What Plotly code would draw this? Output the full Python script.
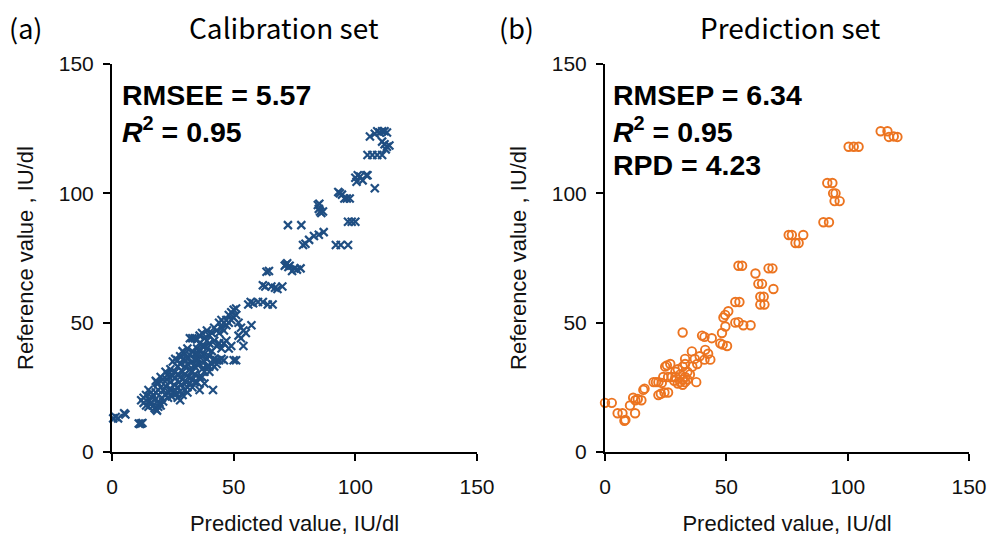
import plotly.graph_objects as go

# ---------------- data ----------------
cal_x = [0.5, 1.5, 2.5, 5, 5.5, 11, 12, 12.5, 11.5,
         14, 15, 16, 17, 18, 18.5, 17.5, 19, 15.5, 16.5, 18, 19.5, 20, 20.5, 21, 18, 19, 18.5, 20, 21, 22,
         22, 23, 23.5, 24, 24.5, 25, 25.5, 26, 26.5, 27, 27.5, 28, 28.5, 29, 22.5, 23.5, 24, 25, 26, 27,
         28, 29, 30, 30.5, 31, 31.5, 32, 32.5, 33, 34, 35, 36, 37, 38, 30, 31, 32, 33, 34, 35,
         36, 37, 38, 39, 40, 41.5, 25, 26, 27, 28, 29, 30, 31, 29.5, 32, 33, 34, 35, 36, 37,
         38, 39, 40, 41, 42, 43, 44, 45, 46, 50, 51, 42, 43, 32, 33, 34, 35, 36, 37, 38,
         39, 40, 41, 42, 43, 44, 45, 46, 47, 48, 49, 50, 51, 49, 50, 51, 48, 47, 46, 44,
         45, 52, 53, 54, 55, 53, 52, 54, 57.3, 46, 47, 48, 49, 44, 45, 43, 42, 40, 39, 38,
         36, 35, 34, 33, 31, 30, 27, 28, 26, 24, 23, 22, 21, 20, 19, 18, 17, 16, 15, 14,
         13, 12, 13, 27, 28, 29, 30, 31, 33, 34, 36, 38, 40, 41, 39, 37, 35,
         56, 57, 58, 60, 62, 64, 66, 62, 63, 65.5, 67, 68, 70, 63.5, 64.5, 71, 72, 72.5, 73, 71.5,
         74, 75, 77.5, 76, 72.3, 77.8, 78.5, 79.5, 81, 83, 85, 87, 84.6, 85, 85.5, 86, 86.7, 85.2,
         93.6, 94.5, 95.5, 96.5, 97.7, 93, 92, 94, 97, 97, 98.5, 100, 100, 101, 102, 103, 104.5,
         100.5, 108, 105, 107, 109, 111, 108, 109, 110, 111, 112, 113, 106, 111, 112, 113, 114,
         112.5, 105]
cal_y = [13, 13.5, 13, 15, 14.5, 11, 11, 11.2, 10.8,
         18, 17.5, 19, 18, 16.5, 16, 17, 17.5, 20, 21, 20.5, 19, 18, 21, 19.5, 27.5, 26.5, 27, 25, 24, 25.5,
         22, 21, 23, 24.5, 21.5, 23, 26, 24, 22.5, 25, 27, 23.5, 26, 28, 28, 29, 27, 29.5, 28.5, 30,
         29, 31, 30, 27, 25, 29, 26.5, 31, 28, 30, 27, 24, 29, 26.5, 33, 34, 32, 35, 33, 36,
         34, 32, 35, 33, 31, 24, 35, 36, 35.5, 37, 39, 38, 40, 36, 37.5, 39, 38, 40, 39, 41,
         38, 40, 37, 39, 36, 35.5, 35.5, 36, 35.5, 35.5, 35.5, 33, 34, 44, 44, 44, 43.5, 45, 46, 44,
         47, 45, 46, 48, 47, 46, 48, 47, 49, 50, 51, 52, 53, 54, 55, 55.5, 53, 51, 50, 50,
         51, 50, 48, 47, 46, 44, 45, 41, 49, 42, 43, 40, 41, 42, 40, 41, 43, 42, 43, 41,
         42, 34, 36, 31, 36, 35, 33, 34, 31, 32, 30, 31, 28, 29, 24, 23, 22, 23, 24, 22,
         21, 20, 19, 21, 20, 22, 24, 23, 25, 27, 29, 31, 33, 34, 36, 37, 38,
         57, 58, 57.5, 58, 58, 57, 57, 64.5, 64, 64, 63.5, 63, 64, 69.7, 70, 72, 73, 71.5, 72, 72.5,
         70, 71, 71, 70.5, 87.7, 87.7, 80, 80.5, 82, 83.5, 84, 85, 95.5, 94, 93, 92.4, 93, 96,
         100, 99.5, 98, 98, 98, 100.5, 80, 80, 80, 89, 89, 89, 106, 107, 106.5, 105, 107,
         104.5, 102, 114.8, 114.8, 114.8, 114.8, 123, 124, 123.5, 124, 124, 123.5, 122, 120, 119, 118, 118.5,
         117, 107]

pred_x = [0, 2.8, 5.2, 7.2, 8, 8.4, 12.4, 10.3, 11.6, 12.5, 13.5, 15, 15.8, 16.3, 20, 21, 22, 22, 23, 24.5,
          26, 23.4, 24, 26, 27.5, 29, 24.8, 25.5, 26.9, 30, 31, 32, 33, 34, 30, 31, 32, 33, 34, 35,
          36, 32, 33, 29, 28.5, 33, 35.8, 37, 37.6, 41, 43.4, 41.3, 42.5, 39, 38, 32, 40, 41, 44, 47.5,
          50.3, 48.5, 48.2, 49.6, 48.8, 50.8, 49.5, 53.7, 55, 57, 60, 53.7, 55.4, 55, 56.5, 62, 63.2, 64.7, 64, 65.4,
          64, 65.7, 67.4, 69, 69.4, 75.7, 77, 78.5, 79.8, 81.7, 90, 92.3, 91.6, 93.7, 94, 95, 94.6, 96.7,
          100.4, 102.5, 104.5, 113.6, 116.4, 117, 120.5, 119]
pred_y = [19, 19, 15, 15, 12.1, 12.4, 15, 18, 21, 20, 20.5, 20, 24, 24.5, 27, 27, 27, 22, 22.5, 23,
          23, 26.7, 29, 29, 29, 29, 33, 33.5, 34, 32, 30, 28, 27, 28, 26.5, 27, 26, 29, 31, 30,
          33, 33, 34, 31, 27.5, 36, 38.9, 36, 27, 35.7, 35.7, 39.5, 38, 37, 34, 46.2, 45, 44.5, 44, 42,
          41, 41.5, 46, 48.5, 52, 54.4, 53, 50, 50.2, 49, 49, 58, 58, 72, 72, 69, 65, 65, 60, 60,
          57, 57, 71, 71, 63, 83.9, 83.9, 80.8, 80.8, 83.9, 88.8, 88.8, 104, 104, 100, 100, 97, 97,
          118, 118, 118, 124, 124, 121.8, 121.8, 122]

tick_vals = [0, 50, 100, 150]
tick_text = ["0", "50", "100", "150"]
panel_titles = ["Calibration set", "Prediction set"]
panel_tags = ["(a)", "(b)"]
stats_a = ["RMSEE = 5.57", "<i>R</i><sup>2</sup> = 0.95"]
stats_b = ["RMSEP = 6.34", "<i>R</i><sup>2</sup> = 0.95", "RPD = 4.23"]

W, H = 990, 537
BLUE = "#1F4E82"
ORANGE = "#EC7420"
TXT = "Liberation Sans, Arial, sans-serif"
JP = "Noto Sans CJK JP, sans-serif"


def px(x):
    return x / W


def py(y):
    return 1 - y / H


fig = go.Figure()
fig.add_trace(go.Scatter(x=cal_x, y=cal_y, mode="markers", xaxis="x", yaxis="y",
                         marker=dict(symbol="x-thin-open", size=8, line=dict(color=BLUE, width=2.2), color=BLUE),
                         cliponaxis=False, showlegend=False, hoverinfo="x+y"))
fig.add_trace(go.Scatter(x=pred_x, y=pred_y, mode="markers", xaxis="x2", yaxis="y2",
                         marker=dict(symbol="circle-open", size=8.5, line=dict(color=ORANGE, width=1.9), color=ORANGE),
                         cliponaxis=False, showlegend=False, hoverinfo="x+y"))

ax_common = dict(range=[0, 150], tickvals=tick_vals, ticktext=tick_text, showgrid=False, zeroline=False,
                 showline=True, linecolor="black", linewidth=2, ticks="outside", ticklen=7, tickwidth=2,
                 tickcolor="black", tickfont=dict(family=TXT, size=21, color="#111"), fixedrange=True,
                 automargin=False)
ytitle = dict(text="Reference value , IU/dl", font=dict(family=TXT, size=22, color="#111"), standoff=19)
xtitle = dict(text="Predicted value, IU/dl", font=dict(family=TXT, size=22, color="#111"), standoff=18)

fig.update_layout(
    width=W, height=H, margin=dict(l=0, r=0, t=0, b=0, autoexpand=False),
    plot_bgcolor="white", paper_bgcolor="white",
    xaxis=dict(domain=[px(112), px(477)], anchor="y", title=xtitle, ticklabelstandoff=8, **ax_common),
    yaxis=dict(domain=[py(452), py(64)], anchor="x", title=ytitle, ticklabelstandoff=5, **ax_common),
    xaxis2=dict(domain=[px(605), px(969)], anchor="y2", title=xtitle, ticklabelstandoff=8, **ax_common),
    yaxis2=dict(domain=[py(452), py(64)], anchor="x2", title=ytitle, ticklabelstandoff=5, **ax_common),
)

ann = []
for tag, title, tx, cx in [(panel_tags[0], panel_titles[0], 7, 284), (panel_tags[1], panel_titles[1], 497, 790)]:
    ann.append(dict(text=tag, x=px(tx), y=py(27), xref="paper", yref="paper", xanchor="left", yanchor="middle",
                    showarrow=False, font=dict(family=JP, size=27, color="black")))
    ann.append(dict(text=title, x=px(cx), y=py(27), xref="paper", yref="paper", xanchor="center", yanchor="middle",
                    showarrow=False, font=dict(family=JP, size=28, color="black")))
for lines, x0 in [(stats_a, 120), (stats_b, 611)]:
    for i, t in enumerate(lines):
        ann.append(dict(text="<b>" + t + "</b>", x=px(x0), y=py(95 + 35 * i), xref="paper", yref="paper",
                        xanchor="left", yanchor="middle", showarrow=False,
                        font=dict(family=TXT, size=28.5, color="black")))
fig.update_layout(annotations=ann)

# remove the default 8px page margin so the figure fills the window exactly
fig.write_html("out.html", config={"displayModeBar": False},
               post_script="document.body.style.margin='0';document.body.style.overflow='hidden';")
